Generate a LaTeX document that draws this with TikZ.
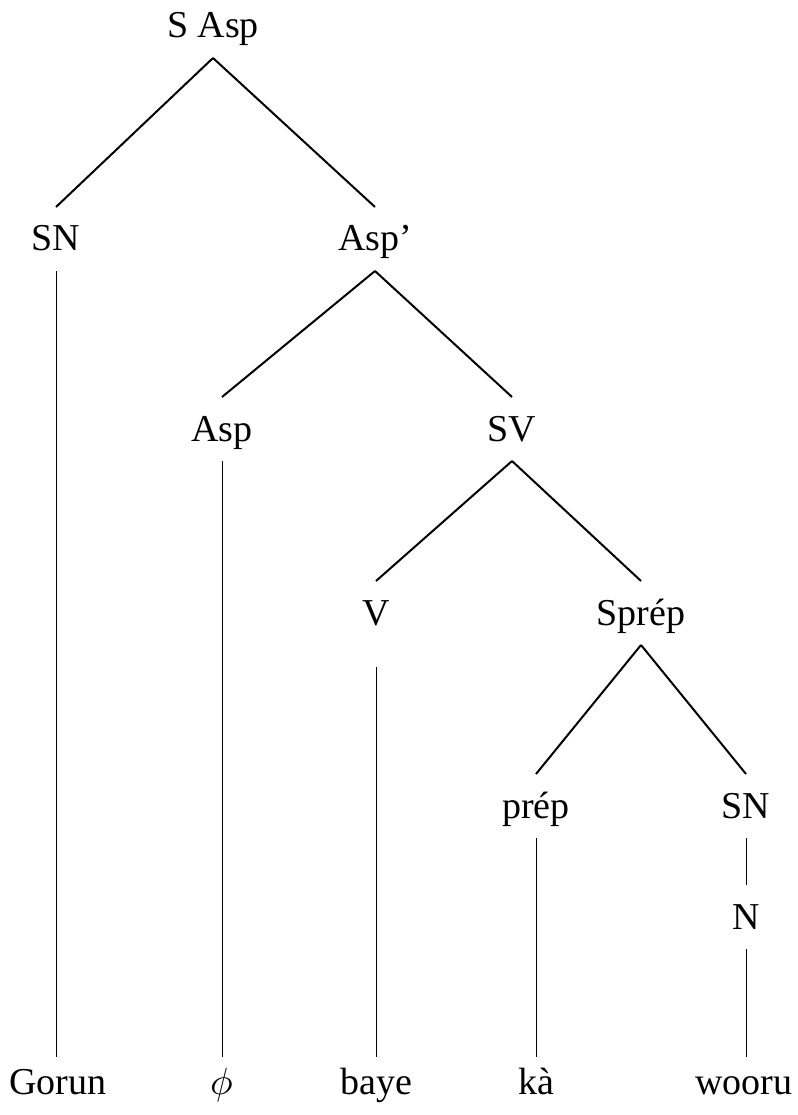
\documentclass[tikz,border=0pt]{standalone}
\usepackage{fontspec}
\usepackage{unicode-math}
\setmainfont{Liberation Serif}

\begin{document}
\begin{tikzpicture}[
    x=1pt, y=-1pt,
    font=\fontsize{38}{45}\selectfont,
    % Styles for the category labels and the words
    cat_node/.style={anchor=base, inner sep=0pt, outer sep=20pt, text height=24pt, text depth=0pt},
    word_node/.style={cat_node, outer sep=13pt},
    % Styles for the branches
    branch_line/.style={line width=2pt},
    unary_line/.style={line width=1pt}
]
\useasboundingbox (0,0) rectangle (797,1115);

% --- 1. Category labels of the tree ---
\node[cat_node] (sasp)   at (213,38)  {S Asp};
\node[cat_node] (sn1)    at (56,251)  {SN};
\node[cat_node] (aspbar) at (375,251) {Asp'};
\node[cat_node] (asp)    at (222,441) {Asp};
\node[cat_node] (sv)     at (512,441) {SV};
\node[cat_node] (v)      at (376,625) {V};
\node[cat_node] (sprep)  at (641,625) {Sprép};
\node[cat_node] (prep)   at (536,818) {prép};
\node[cat_node] (sn2)    at (746,818) {SN};
\node[cat_node] (n)      at (746,929) {N};

% --- 2. Words on the bottom line ---
\node[word_node] (gorun) at (58,1094)  {Gorun};
\node[word_node] (zero)  at (222,1094) {$\phi$};
\node[word_node] (baye)  at (376,1094) {baye};
\node[word_node] (ka)    at (536,1094) {kà};
\node[word_node] (wooru) at (744,1094) {wooru};

% --- 3. Binary branches ---
\draw[branch_line] (sasp.south) -- (sn1.north);
\draw[branch_line] (sasp.south) -- (aspbar.north);
\draw[branch_line] (aspbar.south) -- (asp.north);
\draw[branch_line] (aspbar.south) -- (sv.north);
\draw[branch_line] (sv.south) -- (v.north);
\draw[branch_line] (sv.south) -- (sprep.north);
\draw[branch_line] (sprep.south) -- (prep.north);
\draw[branch_line] (sprep.south) -- (sn2.north);

% --- 4. Unary branches down to the words ---
\draw[unary_line] (sn1.south) -- (gorun.north -| sn1.south);
\draw[unary_line] (asp.south) -- (zero.north);
\draw[unary_line, shorten <=22pt] (v.south) -- (baye.north);
\draw[unary_line] (prep.south) -- (ka.north);
\draw[unary_line] (sn2.south) -- (n.north);
\draw[unary_line] (n.south) -- (wooru.north -| n.south);

\end{tikzpicture}
\end{document}
